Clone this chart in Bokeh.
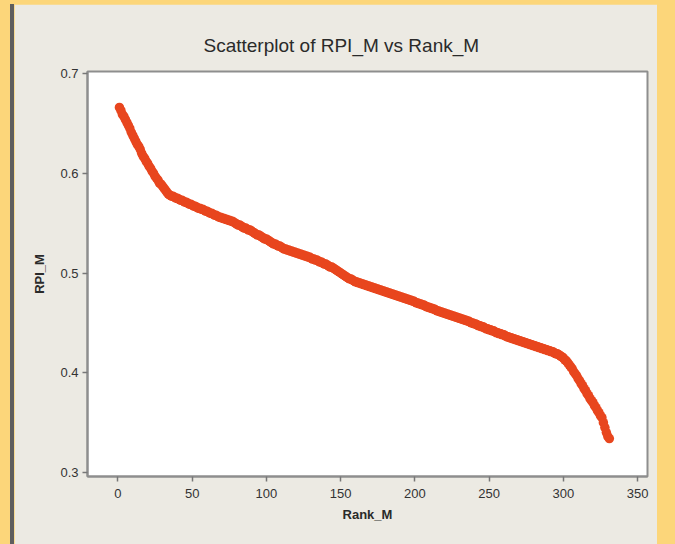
from bokeh.plotting import figure
from bokeh.models import FixedTicker, Range1d, ColumnDataSource
from bokeh.layouts import column
from bokeh.embed import file_html
from bokeh.resources import INLINE

# ---- data ----
rpi_m = [
    0.666, 0.663, 0.659, 0.657, 0.654, 0.651, 0.648, 0.645, 0.641, 0.638,
    0.635, 0.632, 0.629, 0.627, 0.624, 0.620, 0.617, 0.615, 0.612, 0.610,
    0.607, 0.605, 0.602, 0.600, 0.597, 0.595, 0.593, 0.590, 0.589, 0.587,
    0.585, 0.583, 0.581, 0.579, 0.578, 0.577, 0.577, 0.576, 0.575, 0.575,
    0.574, 0.573, 0.573, 0.572, 0.571, 0.571, 0.570, 0.569, 0.569, 0.568,
    0.567, 0.567, 0.566, 0.565, 0.565, 0.564, 0.564, 0.563, 0.562, 0.562,
    0.561, 0.560, 0.560, 0.559, 0.558, 0.558, 0.557, 0.556, 0.556, 0.555,
    0.555, 0.554, 0.554, 0.553, 0.553, 0.552, 0.552, 0.551, 0.550, 0.549,
    0.548, 0.548, 0.547, 0.546, 0.545, 0.545, 0.544, 0.543, 0.543, 0.542,
    0.541, 0.540, 0.539, 0.538, 0.538, 0.537, 0.536, 0.535, 0.534, 0.534,
    0.533, 0.532, 0.531, 0.530, 0.529, 0.529, 0.528, 0.527, 0.527, 0.526,
    0.525, 0.524, 0.524, 0.523, 0.523, 0.522, 0.522, 0.521, 0.521, 0.520,
    0.520, 0.519, 0.519, 0.518, 0.518, 0.517, 0.517, 0.516, 0.516, 0.515,
    0.514, 0.514, 0.513, 0.513, 0.512, 0.511, 0.511, 0.510, 0.509, 0.509,
    0.508, 0.507, 0.506, 0.506, 0.505, 0.504, 0.503, 0.502, 0.501, 0.500,
    0.499, 0.498, 0.497, 0.496, 0.495, 0.494, 0.494, 0.493, 0.492, 0.491,
    0.491, 0.490, 0.490, 0.489, 0.489, 0.488, 0.488, 0.487, 0.487, 0.486,
    0.486, 0.485, 0.485, 0.484, 0.484, 0.483, 0.483, 0.482, 0.482, 0.481,
    0.481, 0.480, 0.480, 0.479, 0.479, 0.478, 0.478, 0.477, 0.477, 0.476,
    0.476, 0.475, 0.475, 0.474, 0.474, 0.473, 0.473, 0.472, 0.472, 0.471,
    0.470, 0.470, 0.469, 0.469, 0.468, 0.468, 0.467, 0.466, 0.466, 0.465,
    0.465, 0.464, 0.464, 0.463, 0.462, 0.462, 0.461, 0.461, 0.460, 0.460,
    0.459, 0.459, 0.458, 0.458, 0.457, 0.457, 0.456, 0.456, 0.455, 0.455,
    0.454, 0.454, 0.453, 0.453, 0.452, 0.452, 0.451, 0.450, 0.450, 0.449,
    0.449, 0.448, 0.447, 0.447, 0.446, 0.446, 0.445, 0.444, 0.444, 0.443,
    0.443, 0.442, 0.442, 0.441, 0.440, 0.440, 0.439, 0.439, 0.438, 0.438,
    0.437, 0.436, 0.436, 0.435, 0.435, 0.434, 0.434, 0.433, 0.433, 0.432,
    0.432, 0.431, 0.431, 0.430, 0.430, 0.429, 0.429, 0.428, 0.428, 0.427,
    0.427, 0.426, 0.426, 0.425, 0.425, 0.424, 0.424, 0.423, 0.423, 0.422,
    0.422, 0.421, 0.421, 0.420, 0.419, 0.419, 0.418, 0.417, 0.416, 0.415,
    0.413, 0.412, 0.410, 0.408, 0.406, 0.404, 0.401, 0.399, 0.397, 0.394,
    0.392, 0.389, 0.387, 0.384, 0.382, 0.379, 0.377, 0.374, 0.372, 0.370,
    0.367, 0.365, 0.362, 0.360, 0.357, 0.355, 0.350, 0.345, 0.340, 0.336,
    0.334,
]
rank_m = list(range(1, len(rpi_m) + 1))

x_ticks = [0, 50, 100, 150, 200, 250, 300, 350]
y_ticks = [0.3, 0.4, 0.5, 0.6, 0.7]

title_text = "Scatterplot of RPI_M vs Rank_M"
x_label = "Rank_M"
y_label = "RPI_M"

FONT = "Liberation Sans"
PANEL = "#ECEAE3"
YELLOW = "#FCD67A"
DOT = "#E8461E"

source = ColumnDataSource(data=dict(rank=rank_m, rpi=rpi_m))

# panel occupies x 14..657, y 4..544 of the page
p = figure(
    width=643, height=540,
    output_backend="svg", toolbar_location=None,
    x_range=Range1d(-20.5, 356.7), y_range=Range1d(0.296, 0.702),
    min_border_left=73, min_border_right=10, min_border_top=67, min_border_bottom=68,
    background_fill_color="white", border_fill_color=PANEL,
    title=title_text,
    margin=(4, 18, 0, 14),
    styles={"box-shadow": "-4px 0 0 #5E5E5E"},
)

p.scatter("rank", "rpi", source=source, size=9.5, color=DOT, line_color=None)

p.grid.visible = False
p.outline_line_color = "#8E8E8E"
p.outline_line_width = 2

p.title.align = "left"
p.title.offset = 116
p.title.standoff = 31
p.title.text_font = FONT
p.title.text_font_size = "19px"
p.title.text_font_style = "normal"
p.title.text_color = "#2A2A2A"

for ax in (p.xaxis[0], p.yaxis[0]):
    ax.axis_line_color = "#8E8E8E"
    ax.axis_line_width = 2
    ax.major_tick_line_color = "#777777"
    ax.major_tick_line_width = 1.5
    ax.major_tick_out = 5
    ax.major_tick_in = 0
    ax.minor_tick_line_color = None
    ax.major_label_text_font = FONT
    ax.major_label_text_font_size = "13px"
    ax.major_label_text_color = "#333333"
    ax.axis_label_text_font = FONT
    ax.axis_label_text_font_size = "13px"
    ax.axis_label_text_font_style = "bold"
    ax.axis_label_text_color = "#2A2A2A"

p.xaxis[0].ticker = FixedTicker(ticks=x_ticks)
p.yaxis[0].ticker = FixedTicker(ticks=y_ticks)
p.xaxis[0].axis_label = x_label
p.yaxis[0].axis_label = y_label
p.xaxis[0].major_label_standoff = 7
p.xaxis[0].axis_label_standoff = 6
p.yaxis[0].major_label_standoff = 4
p.yaxis[0].axis_label_standoff = 10

root = column(p, styles={"background-color": YELLOW})

open("out.html", "w").write(file_html(root, INLINE))
